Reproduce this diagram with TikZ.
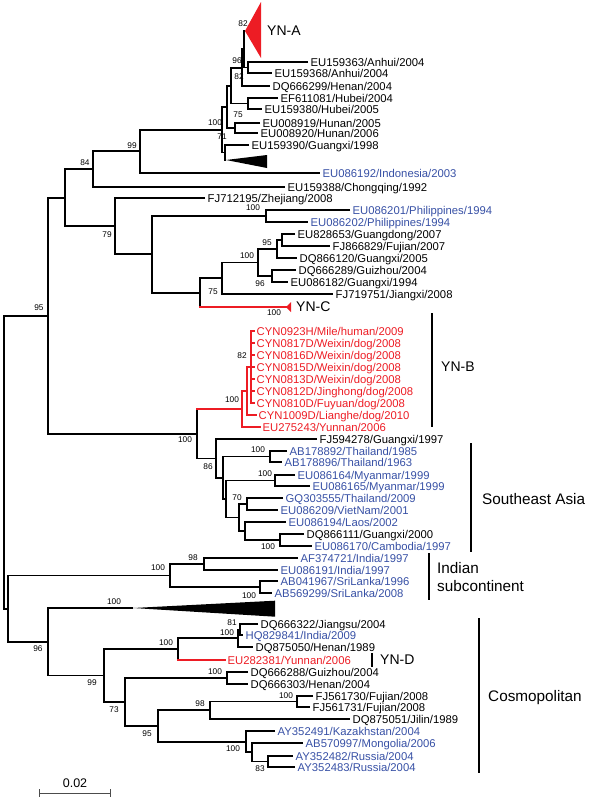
\documentclass[tikz,border=0pt]{standalone}
\usepackage{fontspec}
\setmainfont{Liberation Sans}
\usetikzlibrary{calc}
\definecolor{tipBlue}{RGB}{55,80,165}
\definecolor{tipRed}{RGB}{237,28,36}
\tikzset{
    treeEdge/.style={line width=1.8pt},
    redEdge/.style={line width=1.8pt, draw=tipRed, line cap=rect},
    tipText/.style={anchor=west, inner xsep=2.5pt, inner ysep=0pt, text height=8pt, text depth=0pt, font=\fontsize{11.3}{13}\selectfont},
    bootLabel/.style={inner sep=0pt, font=\fontsize{8.3}{10}\selectfont},
    cladeLabel/.style={anchor=west, inner sep=0pt, font=\fontsize{14}{17}\selectfont},
    regionLabel/.style={anchor=west, inner sep=0pt, align=left, font=\fontsize{15.3}{18}\selectfont},
    cladeBar/.style={line width=1.3pt},
    scaleBar/.style={line width=1pt, draw=black!70},
}
\newcommand{\addTip}[5][black]{
    \node[tipText, text=#1] (#2) at (#3,#4) {#5};
}
\newcommand{\drawFork}[4][treeEdge]{
    \draw[#1] (#3) -| (#2) |- (#4);
}
\newcommand{\drawRedFork}[3]{
    \draw[treeEdge] (#2) -| (#1) -- (#1 |- #3);
    \draw[redEdge] (#1 |- #3) -- (#3);
}

\begin{document}
\begin{tikzpicture}[x=1pt, y=-1pt]
    \useasboundingbox (0,0) rectangle (600,798);

    % inner nodes
    \coordinate (root) at (4,462);
    \coordinate (n95) at (48,315.7);
    \coordinate (n65) at (65,197.7);
    \coordinate (n84) at (93,169.2);
    \coordinate (n99a) at (140,151.3);
    \coordinate (n100a) at (222,129.7);
    \coordinate (nC) at (227,106.8);
    \coordinate (nB) at (231,85.6);
    \coordinate (nA82b) at (242,67.6);
    \coordinate (nA82) at (244,49.25);
    \coordinate (nA96) at (248,67.5);
    \coordinate (nHubei) at (248,103.5);
    \coordinate (nHunan) at (235,128);
    \coordinate (n71) at (225,152.5);
    \coordinate (n79) at (115,226.2);
    \coordinate (n152) at (152,254.3);
    \coordinate (nPhil) at (266,216);
    \coordinate (n75b) at (200,292.6);
    \coordinate (n222) at (222,278.25);
    \coordinate (n258) at (258,262.5);
    \coordinate (n277) at (277,249);
    \coordinate (n95c) at (282,240);
    \coordinate (n96c) at (272,276);
    \coordinate (n198) at (197,433.7);
    \coordinate (nRed) at (242,409);
    \coordinate (nR2) at (247,391);
    \coordinate (nR1) at (251,367);
    \coordinate (n86) at (216,458.4);
    \coordinate (nX) at (223,477.75);
    \coordinate (nThai) at (270,456.5);
    \coordinate (nY) at (226,499);
    \coordinate (nMyan) at (275,480.5);
    \coordinate (nZ) at (239,517.5);
    \coordinate (n70) at (247,504);
    \coordinate (nW) at (245,531);
    \coordinate (n100d) at (280,540);
    \coordinate (nI) at (8,608.6);
    \coordinate (nIndia) at (170,575.5);
    \coordinate (n98) at (204,564);
    \coordinate (nSL) at (260,587);
    \coordinate (n96b) at (48,641.75);
    \coordinate (n99b) at (104,675.5);
    \coordinate (n178) at (178,649);
    \coordinate (n237) at (238,638.25);
    \coordinate (n81) at (240,629.5);
    \coordinate (n73) at (125,702);
    \coordinate (n227) at (227,678);
    \coordinate (n158) at (158,726);
    \coordinate (n210) at (210,710.25);
    \coordinate (n297) at (297,701.5);
    \coordinate (n246) at (246,741.6);
    \coordinate (n252) at (252,752.25);
    \coordinate (n268) at (268,761.5);

    % collapsed clades
    \coordinate (ynA) at (245,31);
    \coordinate (triA) at (226,160);
    \coordinate (ynC) at (286,307);
    \coordinate (triB) at (133,608);
    \fill[tipRed] (ynA) -- ++(16,-29) -- ++(0,56) -- cycle;
    \fill (triA) -- ++(41,-5) -- ++(0,13) -- cycle;
    \fill[tipRed] (ynC) -- ++(5,-5) -- ++(0,10) -- cycle;
    \fill (triB) -- ++(142,-7.3) -- ++(0,16) -- cycle;

    % tips
    \addTip{t159363}{308}{62}{EU159363/Anhui/2004}
    \addTip{t159368}{272}{73}{EU159368/Anhui/2004}
    \addTip{t666299}{270}{86}{DQ666299/Henan/2004}
    \addTip{t611081}{278}{98}{EF611081/Hubei/2004}
    \addTip{t159380}{262}{109}{EU159380/Hubei/2005}
    \addTip{t008919}{260}{123}{EU008919/Hunan/2005}
    \addTip{t008920}{258}{133}{EU008920/Hunan/2006}
    \addTip{t159390}{249}{145}{EU159390/Guangxi/1998}
    \addTip[tipBlue]{t086192}{320}{173}{EU086192/Indonesia/2003}
    \addTip{t159388}{285}{187}{EU159388/Chongqing/1992}
    \addTip{t712195}{205}{198}{FJ712195/Zhejiang/2008}
    \addTip[tipBlue]{t086201}{350}{210}{EU086201/Philippines/1994}
    \addTip[tipBlue]{t086202}{308}{222}{EU086202/Philippines/1994}
    \addTip{t828653}{295}{234}{EU828653/Guangdong/2007}
    \addTip{t866829}{330}{246}{FJ866829/Fujian/2007}
    \addTip{t866120}{297}{258}{DQ866120/Guangxi/2005}
    \addTip{t666289}{296}{270}{DQ666289/Guizhou/2004}
    \addTip{t086182}{288}{282}{EU086182/Guangxi/1994}
    \addTip{t719751}{333}{294}{FJ719751/Jiangxi/2008}
    \addTip[tipRed]{c0923}{254}{331}{CYN0923H/Mile/human/2009}
    \addTip[tipRed]{c0817}{254}{343}{CYN0817D/Weixin/dog/2008}
    \addTip[tipRed]{c0816}{254}{355}{CYN0816D/Weixin/dog/2008}
    \addTip[tipRed]{c0815}{254}{367}{CYN0815D/Weixin/dog/2008}
    \addTip[tipRed]{c0813}{254}{379}{CYN0813D/Weixin/dog/2008}
    \addTip[tipRed]{c0812}{254}{391}{CYN0812D/Jinghong/dog/2008}
    \addTip[tipRed]{c0810}{254}{403}{CYN0810D/Fuyuan/dog/2008}
    \addTip[tipRed]{c1009}{256}{415}{CYN1009D/Lianghe/dog/2010}
    \addTip[tipRed]{t275243}{260}{427}{EU275243/Yunnan/2006}
    \addTip{t594278}{317}{439}{FJ594278/Guangxi/1997}
    \addTip[tipBlue]{t178892}{287}{451}{AB178892/Thailand/1985}
    \addTip[tipBlue]{t178896}{282}{462}{AB178896/Thailand/1963}
    \addTip[tipBlue]{t086164}{295}{475}{EU086164/Myanmar/1999}
    \addTip[tipBlue]{t086165}{310}{486}{EU086165/Myanmar/1999}
    \addTip[tipBlue]{t303555}{283}{498}{GQ303555/Thailand/2009}
    \addTip[tipBlue]{t086209}{278}{510}{EU086209/VietNam/2001}
    \addTip[tipBlue]{t086194}{286}{522}{EU086194/Laos/2002}
    \addTip{t866111}{304}{534}{DQ866111/Guangxi/2000}
    \addTip[tipBlue]{t086170}{312}{546}{EU086170/Cambodia/1997}
    \addTip[tipBlue]{t374721}{298}{558}{AF374721/India/1997}
    \addTip[tipBlue]{t086191}{278}{570}{EU086191/India/1997}
    \addTip[tipBlue]{t041967}{278}{581}{AB041967/SriLanka/1996}
    \addTip[tipBlue]{t569299}{272}{593}{AB569299/SriLanka/2008}
    \addTip{t666322}{258}{624}{DQ666322/Jiangsu/2004}
    \addTip[tipBlue]{t829841}{243}{635}{HQ829841/India/2009}
    \addTip{t875050}{253}{647}{DQ875050/Henan/1989}
    \addTip[tipRed]{t282381}{225}{660}{EU282381/Yunnan/2006}
    \addTip{t666288}{248}{672}{DQ666288/Guizhou/2004}
    \addTip{t666303}{248}{684}{DQ666303/Henan/2004}
    \addTip{t561730}{313}{696}{FJ561730/Fujian/2008}
    \addTip{t561731}{310}{707}{FJ561731/Fujian/2008}
    \addTip{t875051}{350}{719}{DQ875051/Jilin/1989}
    \addTip[tipBlue]{t352491}{275}{731}{AY352491/Kazakhstan/2004}
    \addTip[tipBlue]{t570997}{303}{743}{AB570997/Mongolia/2006}
    \addTip[tipBlue]{t352482}{293}{756}{AY352482/Russia/2004}
    \addTip[tipBlue]{t352483}{295}{767}{AY352483/Russia/2004}

    % branches
    \drawFork{root}{n95}{nI}
    \drawFork{n95}{n65}{n198}
    \drawFork{n65}{n84}{n79}
    \drawFork{n84}{n99a}{t159388}
    \drawFork{n99a}{n100a}{t086192}
    \drawFork{n100a}{nC}{n71}
    \drawFork{nC}{nB}{nHunan}
    \drawFork{nB}{nA82b}{nHubei}
    \drawFork{nA82b}{nA82}{t666299}
    \drawFork{nA82}{ynA}{nA96}
    \drawFork{nA96}{t159363}{t159368}
    \drawFork{nHubei}{t611081}{t159380}
    \drawFork{nHunan}{t008919}{t008920}
    \drawFork{n71}{t159390}{triA}
    \drawFork{n79}{t712195}{n152}
    \drawFork{n152}{nPhil}{n75b}
    \drawFork{nPhil}{t086201}{t086202}
    \drawRedFork{n75b}{n222}{ynC}
    \drawFork{n222}{n258}{t719751}
    \drawFork{n258}{n277}{n96c}
    \drawFork{n277}{n95c}{t866120}
    \drawFork{n95c}{t828653}{t866829}
    \drawFork{n96c}{t666289}{t086182}
    \drawRedFork{n198}{n86}{nRed}
    \drawFork[redEdge]{nRed}{nR2}{t275243}
    \drawFork[redEdge]{nR2}{nR1}{c1009}
    \drawFork[redEdge]{nR1}{c0923}{c0810}
    \foreach \c in {c0817, c0816, c0815, c0813, c0812}
        \draw[redEdge] (nR1) |- (\c);
    \drawFork{n86}{t594278}{nX}
    \drawFork{nX}{nThai}{nY}
    \drawFork{nThai}{t178892}{t178896}
    \drawFork{nY}{nMyan}{nZ}
    \drawFork{nMyan}{t086164}{t086165}
    \drawFork{nZ}{n70}{nW}
    \drawFork{n70}{t303555}{t086209}
    \drawFork{nW}{t086194}{n100d}
    \drawFork{n100d}{t866111}{t086170}
    \drawFork{nI}{nIndia}{n96b}
    \drawFork{nIndia}{n98}{nSL}
    \drawFork{n98}{t374721}{t086191}
    \drawFork{nSL}{t041967}{t569299}
    \drawFork{n96b}{triB}{n99b}
    \drawFork{n99b}{n178}{n73}
    \drawRedFork{n178}{n237}{t282381}
    \drawFork{n237}{n81}{t875050}
    \drawFork{n81}{t666322}{t829841}
    \drawFork{n73}{n227}{n158}
    \drawFork{n227}{t666288}{t666303}
    \drawFork{n158}{n210}{n246}
    \drawFork{n210}{n297}{t875051}
    \drawFork{n297}{t561730}{t561731}
    \drawFork{n246}{t352491}{n252}
    \drawFork{n252}{t570997}{n268}
    \drawFork{n268}{t352482}{t352483}

    % bootstrap values
    \node[bootLabel] (bA82) at (243,24) {82};
    \node[bootLabel] (bA96) at (237,61) {96};
    \node[bootLabel] (bA82b) at (239,77) {82};
    \node[bootLabel] (bHunan) at (238,115) {75};
    \node[bootLabel] (b100a) at (215,123) {100};
    \node[bootLabel] (b71) at (222,137) {71};
    \node[bootLabel] (b99a) at (132,146) {99};
    \node[bootLabel] (b84) at (85,163) {84};
    \node[bootLabel] (b79) at (107,235) {79};
    \node[bootLabel] (bPhil) at (253,208) {100};
    \node[bootLabel] (b277) at (267,243) {95};
    \node[bootLabel] (b258) at (247,256) {100};
    \node[bootLabel] (b96c) at (260,284) {96};
    \node[bootLabel] (b75b) at (213,292) {75};
    \node[bootLabel] (bYNC) at (274,313) {100};
    \node[bootLabel] (b95) at (39,308) {95};
    \node[bootLabel] (bR2) at (242,356) {82};
    \node[bootLabel] (bRed) at (232,400) {100};
    \node[bootLabel] (b198) at (185,440) {100};
    \node[bootLabel] (bThai) at (258,450) {100};
    \node[bootLabel] (b86) at (208,467) {86};
    \node[bootLabel] (bMyan) at (265,474) {100};
    \node[bootLabel] (b70) at (237,498) {70};
    \node[bootLabel] (b100d) at (268,547) {100};
    \node[bootLabel] (b98) at (193,558) {98};
    \node[bootLabel] (bIndia) at (158,568) {100};
    \node[bootLabel] (bSL) at (249,596) {100};
    \node[bootLabel] (bTriB) at (114,602) {100};
    \node[bootLabel] (b81) at (232,623) {81};
    \node[bootLabel] (b237) at (227,633) {100};
    \node[bootLabel] (b178) at (166,643) {100};
    \node[bootLabel] (b96b) at (38,649) {96};
    \node[bootLabel] (b227) at (215,672) {100};
    \node[bootLabel] (b99b) at (92,683) {99};
    \node[bootLabel] (b297) at (286,696) {100};
    \node[bootLabel] (b210) at (200,704) {98};
    \node[bootLabel] (b73) at (114,710) {73};
    \node[bootLabel] (b158) at (147,734) {95};
    \node[bootLabel] (b246) at (233,749) {100};
    \node[bootLabel] (b268) at (260,769) {83};

    % clade names
    \node[cladeLabel] (lblYNA) at (267,31) {YN-A};
    \node[cladeLabel] (lblYNC) at (296,307) {YN-C};
    \node[cladeLabel] (lblYNB) at (441,367) {YN-B};
    \node[cladeLabel] (lblYND) at (380,660) {YN-D};
    \node[regionLabel] (lblSEA) at (482,499) {Southeast Asia};
    \node[regionLabel] (lblIndia) at (437,577) {Indian\\subcontinent};
    \node[regionLabel] (lblCosmo) at (488,698) {Cosmopolitan};
    \draw[cladeBar] (432,313) -- (432,427);
    \draw[cladeBar] (372,653) -- (372,667);
    \draw[cladeBar] (471,443) -- (471,552);
    \draw[cladeBar] (429,553) -- (429,600);
    \draw[cladeBar] (479,618) -- (479,773);

    % scale
    \coordinate (sL) at (39,793);
    \coordinate (sR) at (110,793);
    \draw[scaleBar] (sL) -- (sR);
    \draw[scaleBar] ([yshift=4pt]sL) -- ([yshift=-4pt]sL);
    \draw[scaleBar] ([yshift=4pt]sR) -- ([yshift=-4pt]sR);
    \node[inner sep=0pt, font=\fontsize{12.5}{14}\selectfont] (scaleText) at (75,783) {0.02};
\end{tikzpicture}
\end{document}
